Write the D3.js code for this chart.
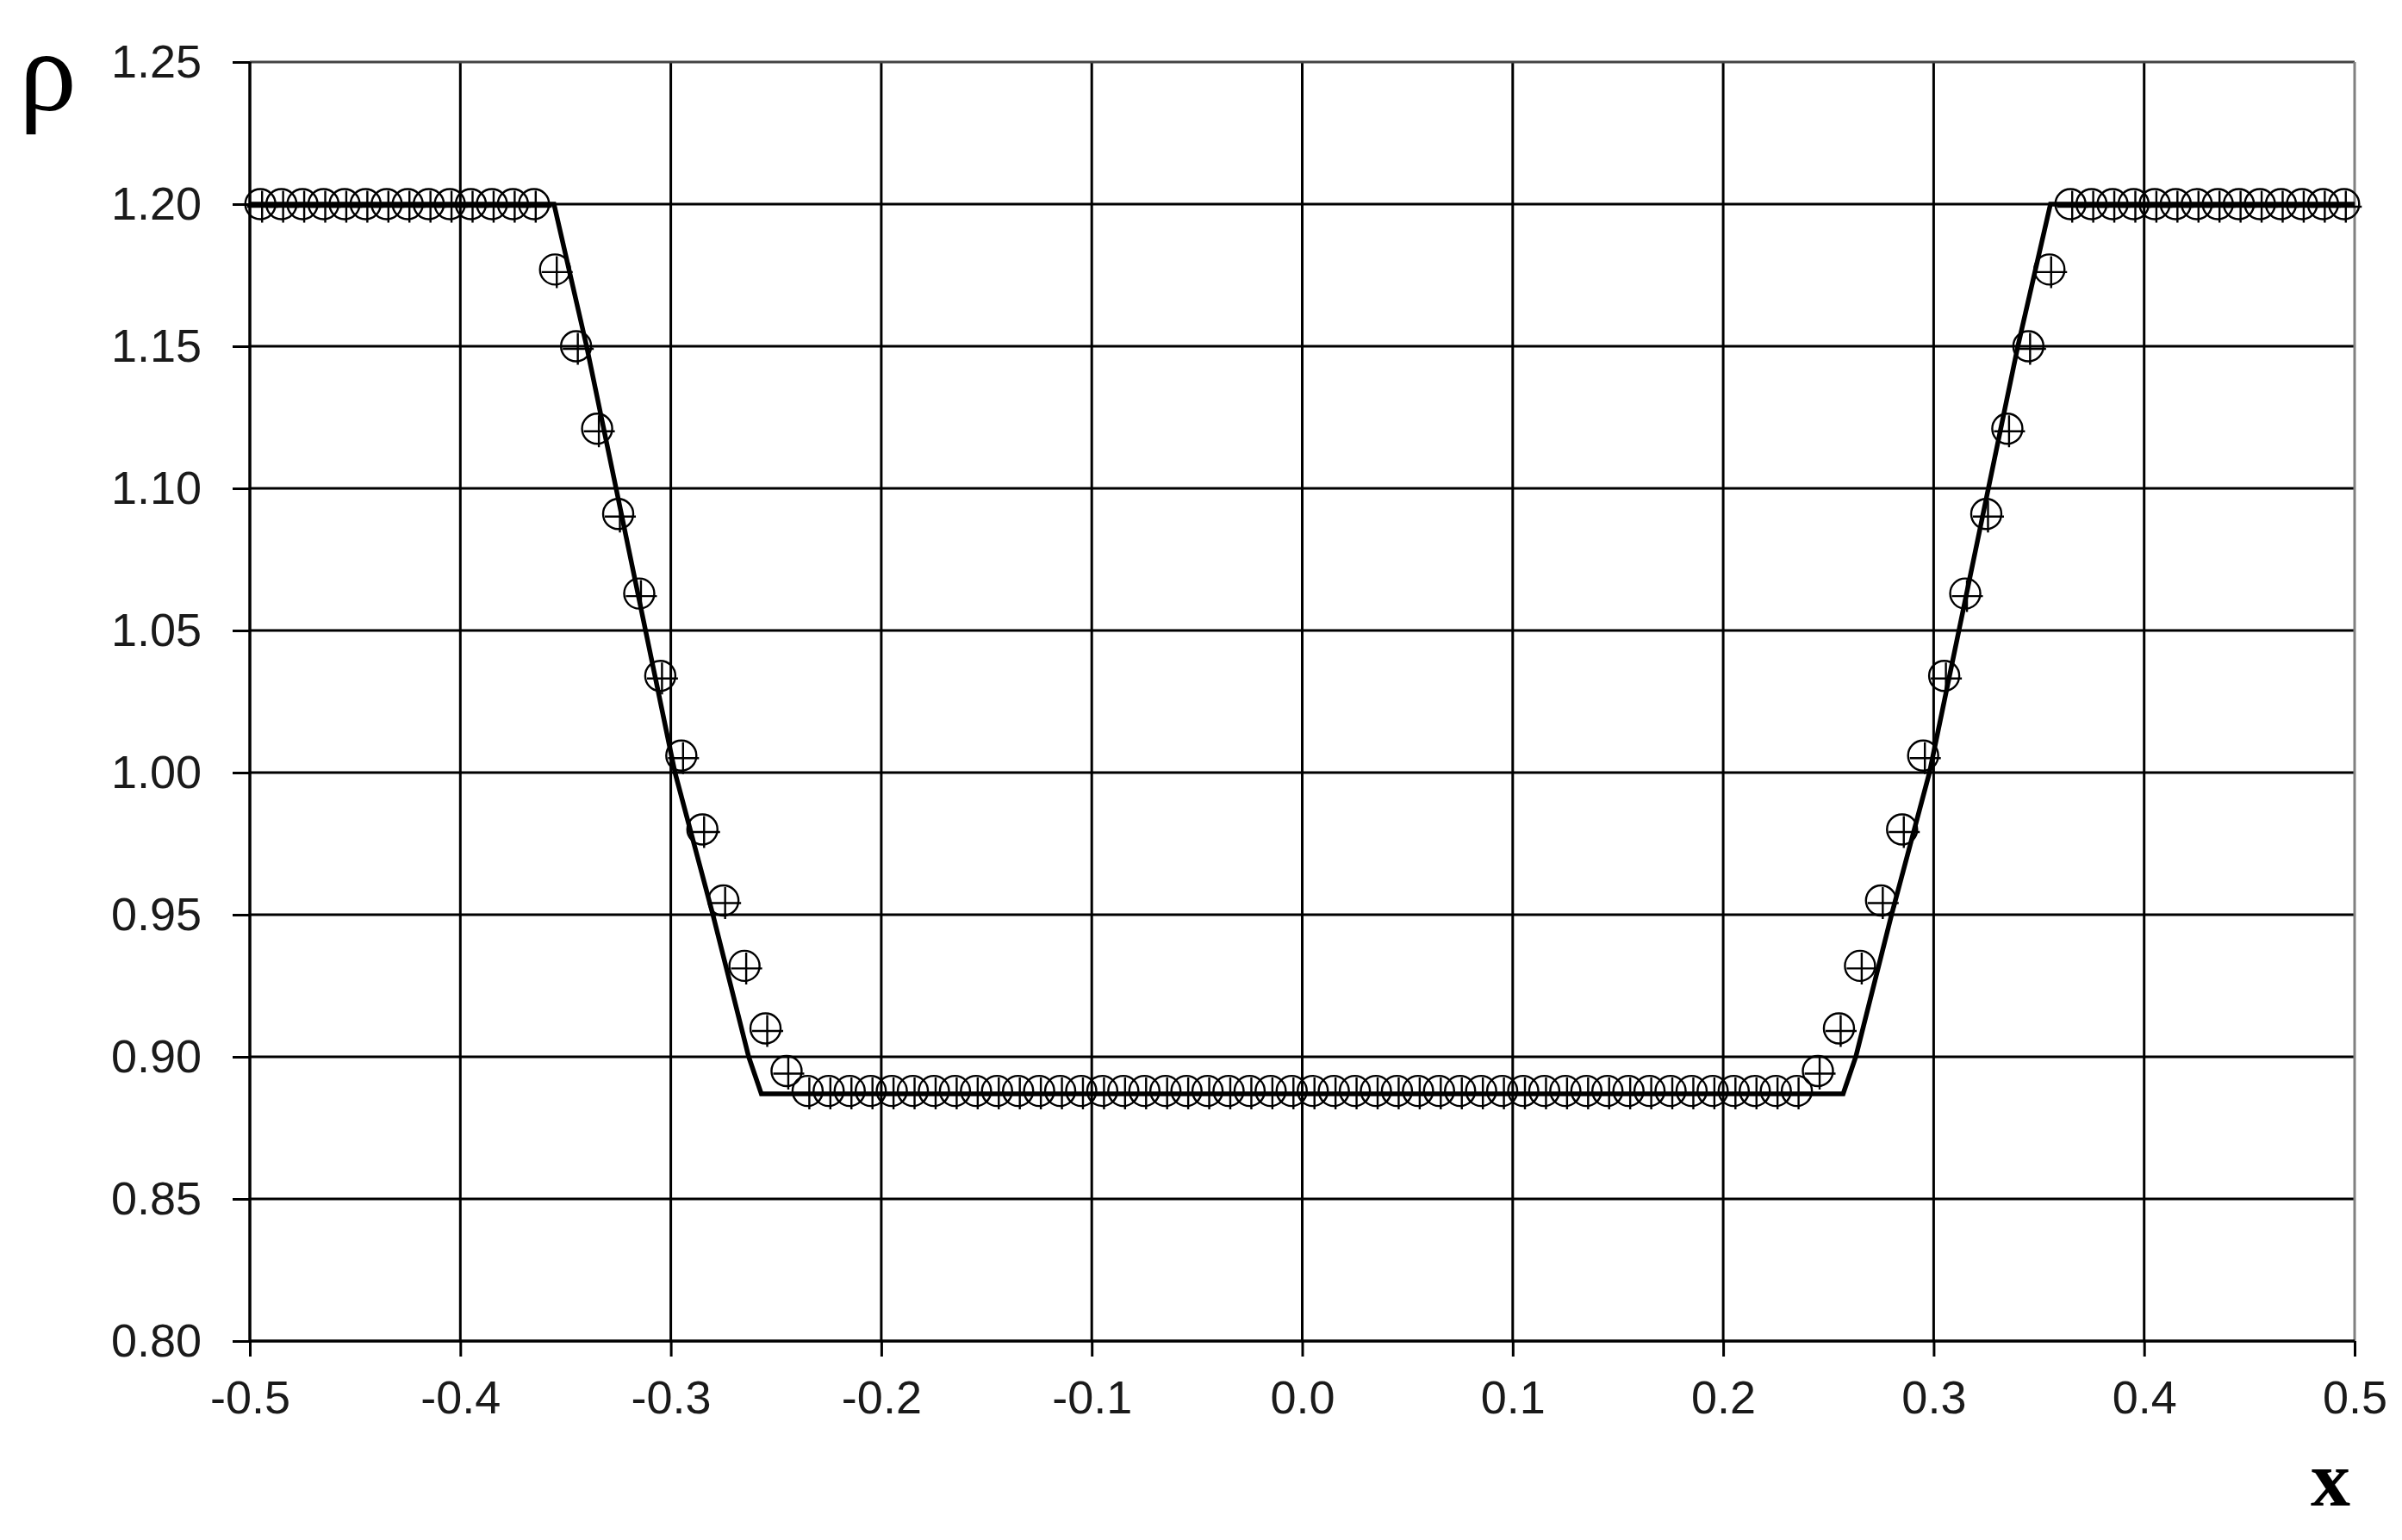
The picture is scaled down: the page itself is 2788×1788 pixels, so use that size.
<!DOCTYPE html>
<html>
<head>
<meta charset="utf-8">
<script src="https://cdn.jsdelivr.net/npm/d3@7"></script>
<style>
  html, body { margin: 0; padding: 0; background: #ffffff; }
  svg { display: block; }
</style>
</head>
<body>
<script>
// ---------- data ----------
const xTicks = [-0.5, -0.4, -0.3, -0.2, -0.1, 0.0, 0.1, 0.2, 0.3, 0.4, 0.5];
const xTickLabels = ["-0.5", "-0.4", "-0.3", "-0.2", "-0.1", "0.0", "0.1", "0.2", "0.3", "0.4", "0.5"];
const yTicks = [0.80, 0.85, 0.90, 0.95, 1.00, 1.05, 1.10, 1.15, 1.20, 1.25];
const yTickLabels = ["0.80", "0.85", "0.90", "0.95", "1.00", "1.05", "1.10", "1.15", "1.20", "1.25"];

// solid line (exact solution)
const lineX = [-0.5, -0.3555, -0.340, -0.326, -0.312, -0.298, -0.280, -0.263, -0.257,
               0.257, 0.263, 0.280, 0.298, 0.312, 0.326, 0.340, 0.3555, 0.5];
const lineY = [1.200, 1.200, 1.150, 1.100, 1.050, 1.000, 0.950, 0.900, 0.887,
               0.887, 0.900, 0.950, 1.000, 1.050, 1.100, 1.150, 1.200, 1.200];

// markers (numerical solution, cell centres)
const markerX = [
  -0.495, -0.485, -0.475, -0.465, -0.455, -0.445, -0.435, -0.425, -0.415, -0.405,
  -0.395, -0.385, -0.375, -0.365, -0.355, -0.345, -0.335, -0.325, -0.315, -0.305,
  -0.295, -0.285, -0.275, -0.265, -0.255, -0.245, -0.235, -0.225, -0.215, -0.205,
  -0.195, -0.185, -0.175, -0.165, -0.155, -0.145, -0.135, -0.125, -0.115, -0.105,
  -0.095, -0.085, -0.075, -0.065, -0.055, -0.045, -0.035, -0.025, -0.015, -0.005,
   0.005,  0.015,  0.025,  0.035,  0.045,  0.055,  0.065,  0.075,  0.085,  0.095,
   0.105,  0.115,  0.125,  0.135,  0.145,  0.155,  0.165,  0.175,  0.185,  0.195,
   0.205,  0.215,  0.225,  0.235,  0.245,  0.255,  0.265,  0.275,  0.285,  0.295,
   0.305,  0.315,  0.325,  0.335,  0.345,  0.355,  0.365,  0.375,  0.385,  0.395,
   0.405,  0.415,  0.425,  0.435,  0.445,  0.455,  0.465,  0.475,  0.485,  0.495
];
const markerY = [
  1.200, 1.200, 1.200, 1.200, 1.200, 1.200, 1.200, 1.200, 1.200, 1.200,
  1.200, 1.200, 1.200, 1.200, 1.177, 1.150, 1.121, 1.091, 1.063, 1.034,
  1.006, 0.980, 0.955, 0.932, 0.910, 0.895, 0.888, 0.888, 0.888, 0.888,
  0.888, 0.888, 0.888, 0.888, 0.888, 0.888, 0.888, 0.888, 0.888, 0.888,
  0.888, 0.888, 0.888, 0.888, 0.888, 0.888, 0.888, 0.888, 0.888, 0.888,
  0.888, 0.888, 0.888, 0.888, 0.888, 0.888, 0.888, 0.888, 0.888, 0.888,
  0.888, 0.888, 0.888, 0.888, 0.888, 0.888, 0.888, 0.888, 0.888, 0.888,
  0.888, 0.888, 0.888, 0.888, 0.895, 0.910, 0.932, 0.955, 0.980, 1.006,
  1.034, 1.063, 1.091, 1.121, 1.150, 1.177, 1.200, 1.200, 1.200, 1.200,
  1.200, 1.200, 1.200, 1.200, 1.200, 1.200, 1.200, 1.200, 1.200, 1.200
];

const yAxisTitle = "ρ";
const xAxisTitle = "x";

// ---------- layout ----------
(function () {
const W = 2788, H = 1788;
const pLeft = 290, pRight = 2733, pTop = 72, pBottom = 1557;

const svg = d3.select("body").append("svg")
  .attr("width", W).attr("height", H)
  .attr("viewBox", `0 0 ${W} ${H}`);

svg.append("rect").attr("width", W).attr("height", H).attr("fill", "#ffffff");

const x = d3.scaleLinear().domain([-0.5, 0.5]).range([pLeft, pRight]);
const y = d3.scaleLinear().domain([0.80, 1.25]).range([pBottom, pTop]);

// gridlines
const grid = svg.append("g");
grid.selectAll("line.v").data(xTicks.filter(d => d > -0.5 && d < 0.5)).join("line")
  .attr("class", "v")
  .attr("x1", d => x(d)).attr("x2", d => x(d))
  .attr("y1", y(0.80)).attr("y2", y(1.25))
  .attr("stroke", "#000").attr("stroke-width", 3);
grid.selectAll("line.h").data(yTicks.filter(d => d > 0.8)).join("line")
  .attr("class", "h")
  .attr("x1", x(-0.5)).attr("x2", x(0.5))
  .attr("y1", d => y(d)).attr("y2", d => y(d))
  .attr("stroke", d => d === 1.25 ? "#444" : "#000").attr("stroke-width", 3);
// right border
grid.append("line")
  .attr("x1", x(0.5)).attr("x2", x(0.5)).attr("y1", y(0.80)).attr("y2", y(1.25))
  .attr("stroke", "#808080").attr("stroke-width", 3);

// axes
const fontSans = "'Liberation Sans', Arial, sans-serif";
const xAxis = d3.axisBottom(x).tickValues(xTicks)
  .tickFormat((d, i) => xTickLabels[i]).tickSize(18).tickPadding(28);
const gx = svg.append("g").attr("transform", `translate(0,${pBottom})`).call(xAxis);
gx.select(".domain").attr("stroke", "#000").attr("stroke-width", 3.5)
  .attr("d", `M${pLeft},0H${pRight}`);
gx.selectAll(".tick line").attr("stroke", "#000").attr("stroke-width", 3);
gx.selectAll(".tick text").attr("font-family", fontSans).attr("font-size", 54)
  .attr("fill", "#1a1a1a");

const yAxis = d3.axisLeft(y).tickValues(yTicks)
  .tickFormat((d, i) => yTickLabels[i]).tickSize(20).tickPadding(36);
const gy = svg.append("g").attr("transform", `translate(${pLeft},0)`).call(yAxis);
gy.select(".domain").attr("stroke", "#000").attr("stroke-width", 3.5)
  .attr("d", `M0,${pBottom}V${pTop}`);
gy.selectAll(".tick line").attr("stroke", "#000").attr("stroke-width", 3);
gy.selectAll(".tick text").attr("font-family", fontSans).attr("font-size", 54)
  .attr("fill", "#1a1a1a");

// solid line
const lineData = lineX.map((v, i) => [v, lineY[i]]);
svg.append("path")
  .datum(lineData)
  .attr("d", d3.line().x(d => x(d[0])).y(d => y(d[1])))
  .attr("fill", "none").attr("stroke", "#000").attr("stroke-width", 5.5)
  .attr("stroke-linejoin", "miter");

// markers: circle with cross
const mData = markerX.map((v, i) => [v, markerY[i]]);
const r = 17.5;
const mg = svg.append("g").selectAll("g").data(mData).join("g")
  .attr("transform", d => `translate(${x(d[0])},${y(d[1])})`);
mg.append("circle").attr("r", r).attr("fill", "none")
  .attr("stroke", "#000").attr("stroke-width", 2.4);
mg.append("path").attr("d", `M${-r + 2},3H${r + 3}M2,${-r + 2}V${r + 4}`)
  .attr("stroke", "#000").attr("stroke-width", 2.4).attr("fill", "none");

// axis titles
svg.append("text").attr("x", 22).attr("y", 128)
  .attr("font-family", "'Liberation Serif', 'Times New Roman', serif")
  .attr("font-size", 134).attr("fill", "#000").text(yAxisTitle);
svg.append("text").attr("x", 2705).attr("y", 1748).attr("text-anchor", "middle")
  .attr("font-family", "'Liberation Serif', 'Times New Roman', serif")
  .attr("font-weight", "bold")
  .attr("font-size", 92).attr("fill", "#000").text(xAxisTitle);
})();
</script>
</body>
</html>
